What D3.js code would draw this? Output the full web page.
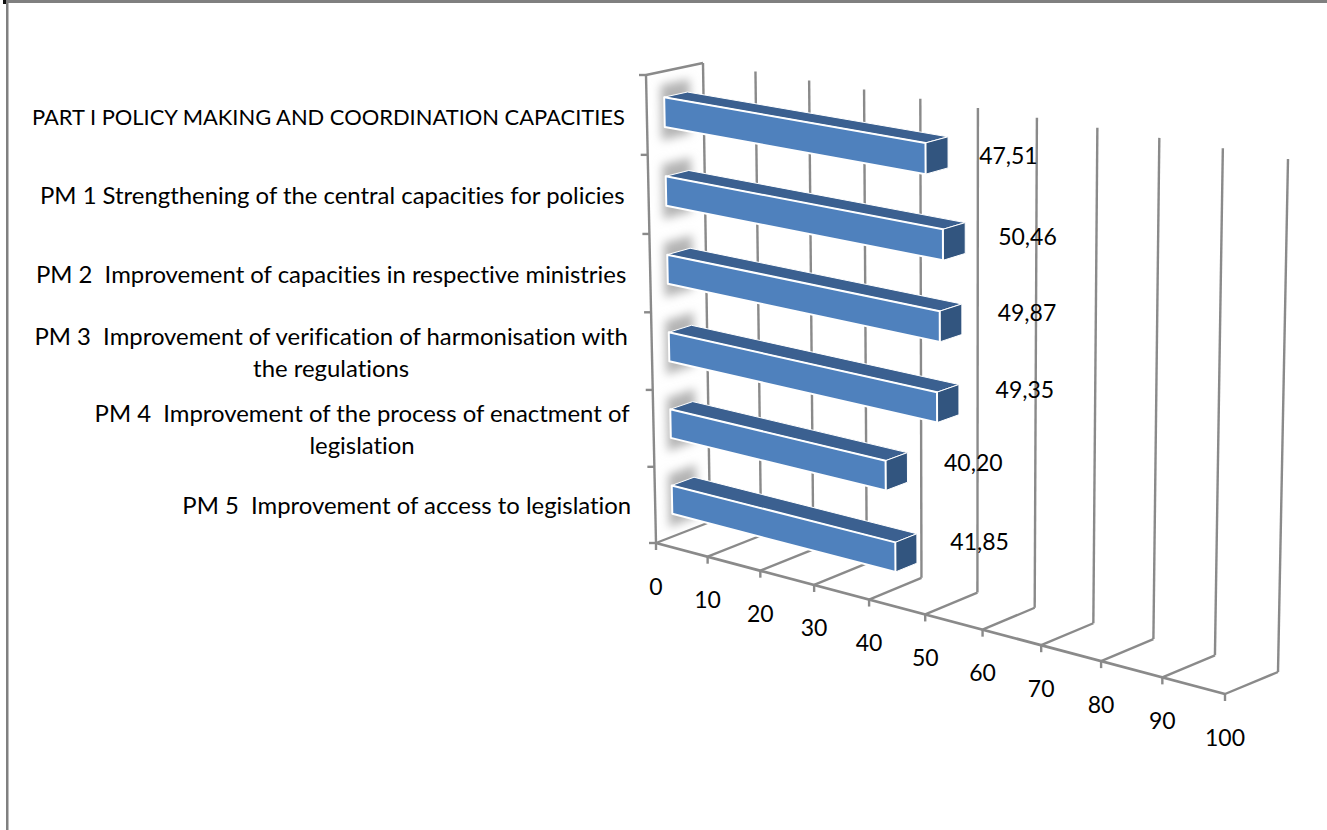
<!DOCTYPE html>
<html><head><meta charset="utf-8">
<script src="https://cdn.jsdelivr.net/npm/d3@7/dist/d3.min.js"></script>
<style>html,body{margin:0;padding:0;background:#fff}svg{display:block}text{font-family:Lato,"Open Sans",sans-serif;fill:#000;font-variant-ligatures:none}</style>
</head><body><svg id="c" width="1327" height="830"></svg>
<script>
const categories = [
  ["PART I POLICY MAKING AND COORDINATION CAPACITIES"],
  ["PM 1 Strengthening of the central capacities for policies"],
  ["PM 2  Improvement of capacities in respective ministries"],
  ["PM 3  Improvement of verification of harmonisation with","the regulations"],
  ["PM 4  Improvement of the process of enactment of","legislation"],
  ["PM 5  Improvement of access to legislation"]
];
const values = [47.51, 50.46, 49.87, 49.35, 40.20, 41.85];
const valueLabels = ["47,51","50,46","49,87","49,35","40,20","41,85"];
const axisTicks = [0,10,20,30,40,50,60,70,80,90,100];
const labelShiftX = [16,18,21,22,22,19];
const labelShiftY = [9,5,0,-3,2,0];

function homography(q){
  const [[x0,y0],[x1,y1],[x2,y2],[x3,y3]] = q;
  const dx1=x1-x2,dx2=x3-x2,sx=x0-x1+x2-x3,dy1=y1-y2,dy2=y3-y2,sy=y0-y1+y2-y3;
  const den=dx1*dy2-dx2*dy1, g=(sx*dy2-dx2*sy)/den, h=(dx1*sy-sx*dy1)/den;
  const a=x1-x0+g*x1,b=x3-x0+h*x3,d=y1-y0+g*y1,e=y3-y0+h*y3;
  return (u,v)=>{const w=g*u+h*v+1;return [(a*u+b*v+x0)/w,(d*u+e*v+y0)/w];};
}
const front = homography([[646,75],[1232,176],[1225,694],[656,543]]);
const back  = homography([[703,63],[1288,159],[1278,672],[710,522]]);
const xS = d3.scaleLinear().domain([0,100]).range([0,1]);
const P = (v,c,d)=>{const u=xS(v),a=front(u,c),b=back(u,c);return [a[0]+(b[0]-a[0])*d,a[1]+(b[1]-a[1])*d];};
const slot = d3.scaleBand().domain(d3.range(categories.length)).range([0,1]);
const barTop=.325, barBot=.70, barFront=.31, barBack=.72;

const svg = d3.select("#c");
const defs = svg.append("defs");
defs.append("filter").attr("id","soft").attr("x","-60%").attr("y","-60%").attr("width","220%").attr("height","220%")
  .append("feGaussianBlur").attr("stdDeviation",5);
defs.append("filter").attr("id","crisp").attr("filterUnits","userSpaceOnUse").attr("x",0).attr("y",0).attr("width",1327).attr("height",830)
  .append("feGaussianBlur").attr("stdDeviation",.45);

const poly = pts=>pts.map(p=>p.join(",")).join(" ");
const line = (g,a,b,w=2.4)=>g.append("line").attr("x1",a[0]).attr("y1",a[1]).attr("x2",b[0]).attr("y2",b[1])
   .attr("stroke","#8a8a8a").attr("stroke-width",w);

// page border
svg.append("rect").attr("x",6).attr("y",0).attr("width",1321).attr("height",3).attr("fill","#808080");
svg.append("rect").attr("x",6).attr("y",0).attr("width",2.5).attr("height",830).attr("fill","#808080");
svg.append("rect").attr("x",3).attr("y",0).attr("width",3).attr("height",4).attr("fill","#111");

// shadows on the side wall
const shadow = svg.append("g");
values.forEach((v,i)=>{
  const c0=slot(i)+slot.bandwidth()*(barTop-.16), c1=slot(i)+slot.bandwidth()*(barBot+.16);
  shadow.append("polygon").attr("points",poly([P(0,c0,barFront-.06),P(0,c0,barBack+.04),P(0,c1,barBack+.04),P(0,c1,barFront-.06)]))
    .attr("fill","#b4b4b4").attr("filter","url(#soft)");
});

const chart = svg.append("g").attr("filter","url(#crisp)");
// grid
const grid = chart.append("g");
axisTicks.forEach(t=>{
  line(grid,P(t,1,0),P(t,1,1));
  line(grid,P(t,1,1),P(t,0,1));
  const a=P(t,1,0);
  line(grid,a,[a[0],a[1]+7]);
});
line(grid,P(0,0,0),P(0,1,0));
line(grid,P(0,0,0),P(0,0,1));
line(grid,P(0,1,0),P(100,1,0),2.8);
d3.range(categories.length+1).forEach(i=>{
  const a=P(0,i/categories.length,0);
  line(grid,a,[a[0]-7,a[1]]);
});

// bars
const bars = chart.append("g");
values.forEach((v,i)=>{
  const c0=slot(i)+slot.bandwidth()*barTop, c1=slot(i)+slot.bandwidth()*barBot;
  const g=bars.append("g").attr("stroke","#fff").attr("stroke-width",2).attr("stroke-linejoin","round");
  g.append("polygon").attr("points",poly([P(0,c0,barFront),P(0,c0,barBack),P(v,c0,barBack),P(v,c0,barFront)])).attr("fill","#3B6190").attr("stroke-width",1);
  g.append("polygon").attr("points",poly([P(v,c0,barFront),P(v,c0,barBack),P(v,c1,barBack),P(v,c1,barFront)])).attr("fill","#31547F").attr("stroke-width",1);
  g.append("polygon").attr("points",poly([P(0,c0,barFront),P(v,c0,barFront),P(v,c1,barFront),P(0,c1,barFront)])).attr("fill","#4F81BD");
});

// value labels
const labels = svg.append("g").attr("font-size",23);
values.forEach((v,i)=>{
  const p=P(v,slot(i)+slot.bandwidth()*.5,1);
  labels.append("text").attr("x",p[0]+29+labelShiftX[i]).attr("y",p[1]+8+labelShiftY[i]).attr("text-anchor","middle").text(valueLabels[i]);
});

// axis labels
const axisLabels = svg.append("g").attr("font-size",23);
axisTicks.forEach(t=>{
  const a=P(t,1,0);
  axisLabels.append("text").attr("x",a[0]).attr("y",a[1]+51.5).attr("text-anchor","middle").text(t);
});

// category labels
const catG = svg.append("g").attr("font-size",23.9);
categories.forEach((lines,i)=>{
  const a=P(0,(i+.5)/categories.length,0);
  const up=lines[0]===lines[0].toUpperCase();
  const rx=a[0]-24+(up?2:0);
  const tx=catG.append("text").attr("x",rx).attr("text-anchor","end").attr("xml:space","preserve")
    .attr("font-size",up?21.9:null).attr("y",a[1]-(lines.length-1)*15.5+9.5).text(lines[0]);
  if(lines.length>1){
    const w=tx.node().getComputedTextLength();
    catG.append("text").attr("x",rx-w/2).attr("y",a[1]+15.5+10).attr("text-anchor","middle").text(lines[1]);
  }
});
</script></body></html>
